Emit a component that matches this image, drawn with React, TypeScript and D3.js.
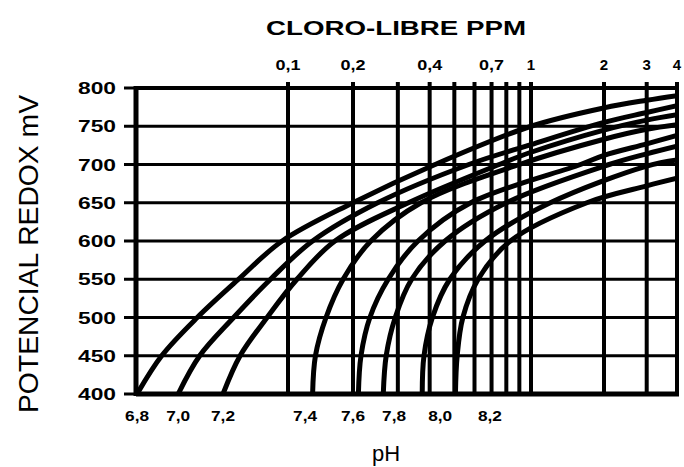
import React from 'react';
import * as d3 from 'd3';

const width = 684;
const height = 467;
const plot = { left: 136, right: 677, top: 88, bottom: 394 };
const font = '"Liberation Sans", Arial, sans-serif';

// cloro libre ppm: vertical grid lines and the labelled ones
const ppmLines = [0.1, 0.2, 0.3, 0.4, 0.5, 0.6, 0.7, 0.8, 0.9, 1, 2, 3, 4];
const ppmLabels = [0.1, 0.2, 0.4, 0.7, 1, 2, 3, 4];
const mvTicks = [400, 450, 500, 550, 600, 650, 700, 750, 800];

// one curve per pH, [ppm, mV]
const ph68 = [[0.02, 400], [0.026, 450], [0.038, 500], [0.059, 550], [0.094, 600], [0.2, 650], [0.42, 700], [1, 750], [2, 774], [3, 784], [4, 790]];
const ph70 = [[0.031, 400], [0.039, 450], [0.056, 500], [0.083, 550], [0.13, 600], [0.25, 650], [0.57, 700], [1, 726], [2, 755], [3, 768], [4, 777]];
const ph72 = [[0.05, 400], [0.06, 450], [0.08, 500], [0.11, 550], [0.165, 600], [0.33, 650], [0.75, 700], [1, 716], [2, 745], [3, 758], [4, 765]];
const ph74 = [[0.13, 400], [0.134, 450], [0.15, 500], [0.18, 550], [0.235, 600], [0.37, 650], [0.9, 700], [2, 733], [3, 746], [4, 752]];
const ph76 = [[0.21, 400], [0.215, 450], [0.233, 500], [0.275, 550], [0.36, 600], [0.58, 650], [1.6, 700], [2, 712], [3, 727], [4, 738]];
const ph78 = [[0.263, 400], [0.27, 450], [0.293, 500], [0.34, 550], [0.46, 600], [0.8, 650], [2.1, 700], [3, 714], [4, 724]];
const ph80 = [[0.374, 400], [0.38, 450], [0.41, 500], [0.48, 550], [0.66, 600], [1.2, 650], [3, 698], [4, 706]];
const ph82 = [[0.505, 400], [0.513, 450], [0.54, 500], [0.62, 550], [0.83, 600], [1.7, 650], [3, 672], [4, 682]];

const curves = [ph68, ph70, ph72, ph74, ph76, ph78, ph80, ph82];
const phNames = ['6,8', '7,0', '7,2', '7,4', '7,6', '7,8', '8,0', '8,2'];
// where the pH names sit along the bottom, in ppm
const phLabelPpm = [0.02, 0.031, 0.05, 0.12, 0.2, 0.29, 0.44, 0.69];

// the printed log scale is not quite regular, so it is piecewise
const x = d3.scaleLog()
  .domain([0.1, 0.2, 1, 4])
  .range([288, 353, 531, 677]);
const y = d3.scaleLinear().domain([400, 800]).range([plot.bottom, plot.top]);

const line = d3.line<number[]>()
  .x(d => x(d[0]))
  .y(d => y(d[1]))
  .curve(d3.curveCatmullRom.alpha(0.5));

const fmt = (v: number) => String(v).replace('.', ',');

export default function App() {
  return (
    <svg width={width} height={height} style={{ position: 'absolute', left: 0, top: 0, background: '#fff' }}
      fontFamily={font}>
      <defs>
        <clipPath id="plotClip">
          <rect x={plot.left} y={plot.top} width={plot.right - plot.left} height={plot.bottom - plot.top} />
        </clipPath>
      </defs>

      <text x={396} y={35} textAnchor="middle" fontSize={21} fontWeight="bold"
        textLength={260} lengthAdjust="spacingAndGlyphs">CLORO-LIBRE PPM</text>

      {/* horizontal grid */}
      {mvTicks.map(v => (
        <g key={v}>
          <line x1={plot.left} x2={plot.right + 2} y1={y(v)} y2={y(v)} stroke="#000"
            strokeWidth={v === 400 ? 5 : v === 800 ? 4 : 3} />
          <line x1={plot.left - 12} x2={plot.left} y1={y(v)} y2={y(v)} stroke="#000" strokeWidth={3} />
          <text x={116} y={y(v) + 6} textAnchor="end" fontSize={16} fontWeight="bold"
            textLength={38} lengthAdjust="spacingAndGlyphs">{v}</text>
        </g>
      ))}

      {/* vertical grid, ppm */}
      {ppmLines.map(v => (
        <line key={v} x1={x(v)} x2={x(v)} y1={plot.top - 6} y2={plot.bottom} stroke="#000" strokeWidth={4} />
      ))}
      {ppmLabels.map(v => (
        <text key={v} x={x(v)} y={70} textAnchor="middle" fontSize={15} fontWeight="bold"
          textLength={v < 1 ? 25 : undefined} lengthAdjust="spacingAndGlyphs">{fmt(v)}</text>
      ))}

      <line x1={plot.left} x2={plot.left} y1={plot.top - 2} y2={plot.bottom + 2} stroke="#000" strokeWidth={5} />

      {/* pH curves */}
      <g clipPath="url(#plotClip)">
        {curves.map((c, i) => (
          <path key={i} d={line(c) || ''} fill="none" stroke="#000" strokeWidth={5} strokeLinecap="round" />
        ))}
      </g>

      {phNames.map((n, i) => (
        <text key={n} x={x(phLabelPpm[i])} y={421} textAnchor="middle" fontSize={15} fontWeight="bold"
          textLength={24} lengthAdjust="spacingAndGlyphs">{n}</text>
      ))}

      <text x={386} y={461} textAnchor="middle" fontSize={22}>pH</text>

      <text transform={`translate(38, 254) rotate(-90)`} textAnchor="middle" fontSize={28}
        textLength={318} lengthAdjust="spacingAndGlyphs">POTENCIAL REDOX mV</text>
    </svg>
  );
}
